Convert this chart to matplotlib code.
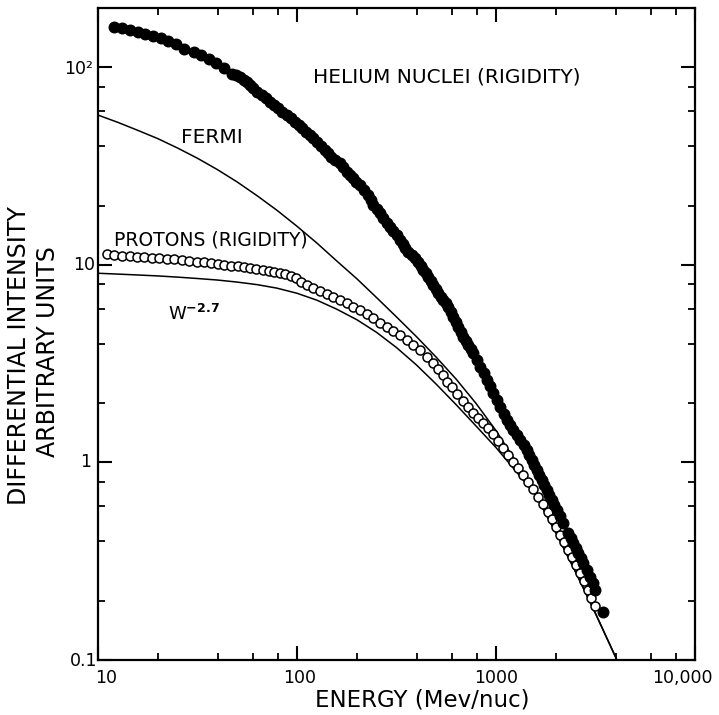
import matplotlib
matplotlib.use("Agg")
import matplotlib.pyplot as plt
import matplotlib.transforms as mtrans
from matplotlib.ticker import FixedLocator, NullFormatter

# ---------------- data ----------------
he_energy = [12.1, 13.2, 14.5, 15.8, 17.3, 19.0, 20.7, 22.5, 24.7, 27.2, 30.3, 33.0,
             36.0, 39.3, 43.1, 47.1, 49.4, 51.8, 53.9, 56.1, 58.1, 60.1, 63.2, 66.5,
             69.8, 73.2, 76.8, 80.5, 84.5, 88.8, 93.1, 97.7, 102, 106, 111, 116, 121,
             126, 132, 138, 143, 149, 156, 164, 171, 178, 185, 192, 199, 207, 217,
             228, 235, 242, 251, 261, 271, 282, 293, 305, 317, 329, 339, 349, 363,
             377, 392, 407, 419, 431, 444, 457, 470, 484, 498, 513, 528, 543, 559,
             576, 593, 610, 628, 647, 666, 685, 704, 723, 746,
             769, 803, 832, 866, 898, 933, 969, 1006, 1048, 1091, 1132, 1175, 1222,
             1268, 1321, 1375, 1426, 1465, 1511, 1552, 1600, 1644, 1697, 1741, 1797,
             1845, 1905, 1954, 2018, 2097, 2178, 2307, 2382, 2445, 2522, 2592, 2674,
             2746, 2851, 2966, 3055, 3142, 3434]
he_intensity = [161, 158, 155, 152, 148, 144, 141, 136, 131, 124, 120, 116,
                110, 105, 99, 92.7, 91.1, 89.5, 86.7, 84.0, 81.2, 78.5, 75.5, 72.6,
                69.8, 67.2, 64.7, 62.2, 59.8, 57.5, 55.3, 53.2, 51.2, 49.2, 47.3, 45.5,
                43.8, 42.1, 40.1, 38.2, 36.8, 35.4, 34.0, 32.7, 31.2, 29.7, 28.6, 27.5,
                26.4, 25.4, 24.0, 22.6, 21.3, 20.1, 19.2, 18.3, 17.3, 16.3, 15.5, 14.8,
                14.1, 13.4, 12.8, 12.2, 11.7, 11.2, 10.8, 10.4, 9.91, 9.44, 9.08, 8.73,
                8.32, 7.93, 7.56, 7.20, 6.92, 6.65, 6.40, 6.15, 5.80, 5.47, 5.16, 4.87,
                4.60, 4.34, 4.13, 3.93, 3.75,
                3.57, 3.30, 3.05, 2.84, 2.62, 2.43, 2.24, 2.07,
                1.92, 1.77, 1.64, 1.55, 1.46, 1.38, 1.30, 1.23, 1.16, 1.09, 1.03, 0.971,
                0.916, 0.865, 0.815, 0.769, 0.726, 0.685, 0.646, 0.609, 0.575, 0.533,
                0.492, 0.438, 0.415, 0.390, 0.369, 0.347, 0.328, 0.309, 0.286, 0.264,
                0.245, 0.226, 0.176]

p_energy = [11.1, 12.1, 13.2, 14.4, 15.7, 17.1, 18.7, 20.3, 22.2, 24.2, 26.4, 28.8,
            31.4, 34.0, 37.0, 40.0, 43.2, 46.6, 50.4, 54.0, 58.2, 62.4, 67.3, 72.1,
            76.9, 81.8, 87.3, 93.3, 98.9,
            105, 112, 121, 131, 141, 152, 164, 178, 192, 207, 224, 242, 261, 282,
            305, 329, 356, 384, 415, 448, 484, 511, 542, 570,
            601, 637, 683, 723, 766, 812, 861, 912, 966, 1023, 1084, 1149, 1217,
            1290, 1366, 1448, 1534, 1626, 1723, 1825, 1911, 2003, 2098, 2198, 2302,
            2411, 2525, 2645, 2770, 2901, 3002, 3144]
p_intensity = [11.4, 11.2, 11.1, 11.1, 11.0, 11.0, 10.9, 10.8, 10.7, 10.7, 10.6, 10.5,
               10.4, 10.3, 10.2, 10.1, 10.0, 9.92, 9.85, 9.73, 9.62, 9.55, 9.44, 9.33,
               9.22, 9.11, 8.97, 8.80, 8.55,
               8.21, 7.92, 7.65, 7.42, 7.14, 6.86, 6.65, 6.44, 6.15, 5.92, 5.65, 5.37,
               5.10, 4.87, 4.65, 4.42, 4.17, 3.93, 3.71, 3.43, 3.18, 2.96, 2.76, 2.57,
               2.40, 2.22, 2.04, 1.91, 1.79, 1.68, 1.58, 1.49, 1.39, 1.28, 1.18, 1.09,
               1.01, 0.938, 0.865, 0.797, 0.734, 0.669, 0.616, 0.561, 0.517, 0.471,
               0.429, 0.396, 0.360, 0.332, 0.303, 0.276, 0.251, 0.226, 0.206, 0.188]

fermi_energy = [10, 12.6, 15.8, 20.0, 25.1, 31.6, 39.8, 50.1, 63.1, 79.4, 100, 126,
                158, 200, 251, 316, 398, 501, 631, 794, 1000, 1259, 1585, 1995, 2512,
                3162, 3981, 4046]
fermi_intensity = [57.4, 52.7, 48.1, 43.6, 39.1, 34.7, 30.4, 26.3, 22.4, 18.9, 15.7,
                   12.9, 10.5, 8.51, 6.84, 5.46, 4.34, 3.41, 2.64, 1.99, 1.45, 1.01,
                   0.681, 0.443, 0.279, 0.172, 0.104, 0.1]

w27_energy = [10, 12.6, 15.8, 20.0, 25.1, 31.6, 39.8, 50.1, 63.1, 79.4, 100, 126,
              158, 200, 251, 316, 398, 501, 631, 794, 1000, 1259, 1585, 1995, 2512,
              3162, 3981, 4046]
w27_intensity = [9.08, 8.99, 8.90, 8.80, 8.68, 8.54, 8.39, 8.19, 7.95, 7.63, 7.19,
                 6.63, 5.98, 5.28, 4.56, 3.82, 3.12, 2.49, 1.96, 1.53, 1.19, 0.903,
                 0.681, 0.443, 0.279, 0.172, 0.104, 0.1]

x_ticks = [10, 100, 1000, 10000]
x_tick_labels = ["10", "100", "1000", "10,000"]
y_ticks = [0.1, 1, 10, 100]
y_tick_labels = ["0.1", "1", "10", "10\u00b2"]
minor_mults = [2, 4, 6, 8]

# ---------------- figure ----------------
W, H, DPI = 719, 715, 100
fig = plt.figure(figsize=(W / DPI, H / DPI), dpi=DPI)
plt.rcParams['font.family'] = ['DejaVu Sans']
left, right, top, bottom = 98, 695, 8, 660
ax = fig.add_axes([left / W, 1 - bottom / H, (right - left) / W, (bottom - top) / H])
ax.set_xscale('log')
ax.set_yscale('log')
ax.set_xlim(10, 10000)
ax.set_ylim(0.1, 200)

ax.plot(fermi_energy, fermi_intensity, color='black', lw=1.1, zorder=2)
ax.plot(w27_energy, w27_intensity, color='black', lw=1.1, zorder=2)
ax.plot(p_energy, p_intensity, linestyle='none', marker='o', ms=6.5,
        mfc='white', mec='black', mew=1.1, zorder=3)
ax.plot(he_energy, he_intensity, linestyle='none', marker='o', ms=7.6,
        mfc='black', mec='black', zorder=4)

# ticks
ax.xaxis.set_major_locator(FixedLocator(x_ticks))
ax.yaxis.set_major_locator(FixedLocator(y_ticks))
xminor = [m * d for d in [10, 100, 1000] for m in minor_mults]
yminor = [m * d for d in [0.1, 1, 10] for m in minor_mults]
ax.xaxis.set_minor_locator(FixedLocator(xminor))
ax.yaxis.set_minor_locator(FixedLocator(yminor))
ax.xaxis.set_major_formatter(NullFormatter())
ax.yaxis.set_major_formatter(NullFormatter())
ax.xaxis.set_minor_formatter(NullFormatter())
ax.yaxis.set_minor_formatter(NullFormatter())
ax.tick_params(which='major', direction='in', length=10, width=1.5,
               top=True, right=True)
ax.tick_params(which='minor', direction='in', length=5, width=1.3,
               top=True, right=True)
for s in ax.spines.values():
    s.set_linewidth(1.6)

# tick labels drawn as text
xoffs = [8, 3, 0, -13]
tx = mtrans.blended_transform_factory(ax.transData, ax.transAxes)
for v, lab, dx in zip(x_ticks, x_tick_labels, xoffs):
    t = tx + mtrans.ScaledTranslation(dx / DPI, -9 / DPI, fig.dpi_scale_trans)
    ax.text(v, 0, lab, transform=t, ha='center', va='top', fontsize=12.5, clip_on=False)

yoffs = [(-1, -1), (-7, 0), (-3, 0), (-5, -2)]
ty = mtrans.blended_transform_factory(ax.transAxes, ax.transData)
for v, lab, (dx, dy) in zip(y_ticks, y_tick_labels, yoffs):
    t = ty + mtrans.ScaledTranslation(dx / DPI, dy / DPI, fig.dpi_scale_trans)
    ax.text(0, v, lab, transform=t, ha='right', va='center', fontsize=12.5, clip_on=False)

# annotations
ax.text(0.584, 0.885, "HELIUM NUCLEI (RIGIDITY)", transform=ax.transAxes,
        ha='center', va='baseline', fontsize=14.5)
ax.text(0.191, 0.793, "FERMI", transform=ax.transAxes,
        ha='center', va='baseline', fontsize=14.5)
ax.text(0.189, 0.6365, "PROTONS (RIGIDITY)", transform=ax.transAxes,
        ha='center', va='baseline', fontsize=13.5)
ax.text(0.117, 0.521, r"W$^{\mathbf{-2.7}}$", transform=ax.transAxes,
        ha='left', va='baseline', fontsize=13)

# axis labels
fig.text(19 / W, 1 - 356 / H, "DIFFERENTIAL INTENSITY", rotation=90,
         ha='center', va='center', fontsize=17)
fig.text(48.5 / W, 1 - 352 / H, "ARBITRARY UNITS", rotation=90,
         ha='center', va='center', fontsize=17)
fig.text(422 / W, 1 - 700 / H, "ENERGY (Mev/nuc)", ha='center', va='center',
         fontsize=16.5)

fig.savefig("out.png", dpi=DPI)
